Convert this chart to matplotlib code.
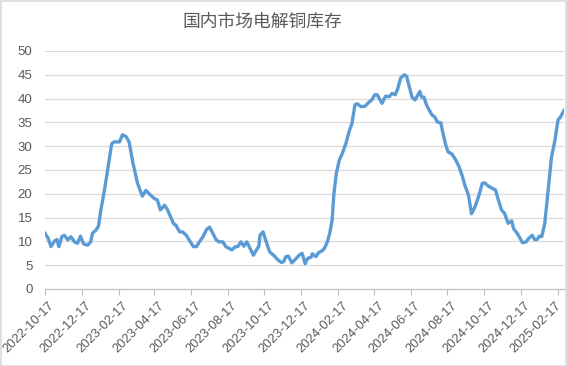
import matplotlib
matplotlib.use("Agg")
import matplotlib.pyplot as plt
import matplotlib.transforms as mtransforms
import pandas as pd
from matplotlib.patches import Rectangle

# ── Data ───────────────────────────────────────────────────────────────────
dates = [
    "2022-10-17", "2022-10-22", "2022-10-27", "2022-11-02", "2022-11-06", "2022-11-09",
    "2022-11-14", "2022-11-18", "2022-11-24", "2022-11-29", "2022-12-05", "2022-12-10",
    "2022-12-15", "2022-12-20", "2022-12-27", "2023-01-01", "2023-01-04", "2023-01-10",
    "2023-01-14", "2023-01-18", "2023-01-24", "2023-01-31", "2023-02-05", "2023-02-09",
    "2023-02-18", "2023-02-23", "2023-03-01", "2023-03-06", "2023-03-12", "2023-03-20",
    "2023-03-28", "2023-04-03", "2023-04-11", "2023-04-17", "2023-04-22", "2023-04-27",
    "2023-05-04", "2023-05-09", "2023-05-15", "2023-05-19", "2023-05-23", "2023-05-29",
    "2023-06-03", "2023-06-09", "2023-06-14", "2023-06-21", "2023-06-26", "2023-07-01",
    "2023-07-07", "2023-07-13", "2023-07-18", "2023-07-23", "2023-07-29", "2023-08-03",
    "2023-08-09", "2023-08-14", "2023-08-20", "2023-08-24", "2023-08-30", "2023-09-03",
    "2023-09-08", "2023-09-13", "2023-09-18", "2023-09-22", "2023-09-29", "2023-10-03",
    "2023-10-08", "2023-10-10", "2023-10-15", "2023-10-21", "2023-10-26", "2023-11-03",
    "2023-11-08", "2023-11-14", "2023-11-18", "2023-11-22", "2023-11-26", "2023-12-02",
    "2023-12-09", "2023-12-14", "2023-12-19", "2023-12-24", "2023-12-28", "2024-01-03",
    "2024-01-05", "2024-01-11", "2024-01-15", "2024-01-21", "2024-01-25", "2024-01-30",
    "2024-02-03", "2024-02-07", "2024-02-10", "2024-02-14", "2024-02-19", "2024-02-24",
    "2024-03-01", "2024-03-06", "2024-03-11", "2024-03-16", "2024-03-20", "2024-03-26",
    "2024-04-02", "2024-04-07", "2024-04-13", "2024-04-18", "2024-04-22", "2024-04-30",
    "2024-05-06", "2024-05-12", "2024-05-17", "2024-05-22", "2024-05-26", "2024-05-31",
    "2024-06-06", "2024-06-10", "2024-06-13", "2024-06-19", "2024-06-24", "2024-07-02",
    "2024-07-05", "2024-07-09", "2024-07-13", "2024-07-17", "2024-07-22", "2024-07-27",
    "2024-07-31", "2024-08-06", "2024-08-09", "2024-08-14", "2024-08-18", "2024-08-24",
    "2024-08-29", "2024-09-05", "2024-09-11", "2024-09-15", "2024-09-21", "2024-09-26",
    "2024-10-02", "2024-10-08", "2024-10-14", "2024-10-18", "2024-10-24", "2024-10-30",
    "2024-11-05", "2024-11-09", "2024-11-15", "2024-11-20", "2024-11-26", "2024-12-02",
    "2024-12-05", "2024-12-11", "2024-12-17", "2024-12-20", "2024-12-26", "2024-12-30",
    "2025-01-05", "2025-01-09", "2025-01-13", "2025-01-17", "2025-01-21", "2025-01-26",
    "2025-01-31", "2025-02-06", "2025-02-12", "2025-02-17", "2025-02-21", "2025-02-27",
]
stock = [
    11.7, 10.7, 8.9, 10.1, 10.4, 8.9,
    11.0, 11.3, 10.3, 11.0, 9.9, 9.6,
    11.1, 9.5, 9.2, 9.9, 11.7, 12.4,
    13.2, 16.6, 20.8, 26.4, 30.5, 30.9,
    30.9, 32.4, 32.0, 30.9, 26.7, 22.2,
    19.5, 20.7, 19.7, 19.0, 18.7, 16.6,
    17.6, 16.6, 14.9, 13.7, 13.4, 12.0,
    12.0, 11.3, 10.3, 8.9, 8.9, 9.9,
    11.0, 12.5, 13.0, 11.8, 10.3, 9.9,
    9.9, 8.9, 8.5, 8.2, 8.9, 8.9,
    9.9, 9.0, 9.9, 8.9, 7.1, 8.0,
    9.0, 11.3, 12.0, 9.6, 7.8, 6.9,
    6.2, 5.6, 5.7, 6.8, 6.9, 5.5,
    6.4, 7.1, 7.5, 5.3, 6.4, 6.7,
    7.4, 6.8, 7.6, 8.0, 8.5, 9.9,
    11.7, 14.5, 20.1, 24.3, 27.1, 28.5,
    30.6, 33.0, 34.8, 38.7, 38.9, 38.3,
    38.4, 39.1, 39.7, 40.8, 40.8, 39.0,
    40.5, 40.4, 41.1, 40.8, 42.0, 44.3,
    45.0, 44.7, 43.2, 40.3, 39.7, 41.5,
    40.3, 40.3, 38.7, 37.7, 36.6, 36.1,
    35.1, 34.9, 33.0, 30.3, 28.8, 28.4,
    27.5, 25.8, 23.6, 21.8, 19.7, 15.8,
    17.3, 19.5, 22.2, 22.3, 21.6, 21.2,
    20.8, 19.0, 16.6, 15.9, 13.8, 14.3,
    12.7, 11.7, 10.4, 9.7, 9.9, 10.6,
    11.3, 10.4, 10.4, 11.1, 11.0, 13.8,
    20.1, 27.5, 31.3, 35.5, 36.1, 37.5,
]
tick_dates = [
    "2022-10-17", "2022-12-17", "2023-02-17", "2023-04-17", "2023-06-17",
    "2023-08-17", "2023-10-17", "2023-12-17", "2024-02-17", "2024-04-17",
    "2024-06-17", "2024-08-17", "2024-10-17", "2024-12-17", "2025-02-17",
]
y_ticks = [0, 5, 10, 15, 20, 25, 30, 35, 40, 45, 50]
title = "国内市场电解铜库存"

# ── Plot ───────────────────────────────────────────────────────────────────
x = pd.to_datetime(dates)
ticks = pd.to_datetime(tick_dates)
grey = "#595959"

fig = plt.figure(figsize=(5.67, 3.66), dpi=100)
ax = fig.add_axes([0.0794, 0.2104, 0.9153, 0.6503])

ax.plot(x, stock, color="#5B9BD5", lw=2.4, solid_joinstyle="round")

ax.set_ylim(0, 50)
ax.set_yticks(y_ticks)
ax.set_xlim(x[0], x[-1])
ax.set_xticks(ticks)
ax.set_xticklabels([])

# slanted date labels: each one ends just right of its tick;
# the last one is nudged left so it stays inside the figure
for i, (t, s) in enumerate(zip(ticks, tick_dates)):
    dx = 3.5 if i < len(ticks) - 1 else -3.0
    shift = mtransforms.ScaledTranslation(dx / 100, -11 / 100, fig.dpi_scale_trans)
    ax.text(t, 0, s, transform=ax.get_xaxis_transform() + shift, rotation=45,
            ha="right", va="top", rotation_mode="anchor", fontsize=9.3,
            color=grey, family="Liberation Sans", clip_on=False)

ax.tick_params(axis="x", length=4, color="#bfbfbf", pad=3)
ax.tick_params(axis="y", length=0, labelsize=9.5, labelcolor=grey, pad=9)
for lab in ax.get_yticklabels():
    lab.set_family("Liberation Sans")

ax.grid(axis="y", color="#d9d9d9", lw=0.9)
ax.set_axisbelow(True)
for side in ("left", "right", "top"):
    ax.spines[side].set_visible(False)
ax.spines["bottom"].set_color("#bfbfbf")

fig.text(0.462, 0.94, title, ha="center", va="center", fontsize=12.8,
         color=grey, family=["Noto Sans CJK SC", "DejaVu Sans"], fontweight="light")

# chart border
fig.patches.append(Rectangle((0.001, 0.001), 0.997, 0.996, transform=fig.transFigure,
                             fill=False, edgecolor="#d9d9d9", lw=1.2))

fig.savefig("out.png", dpi=100)
plt.close(fig)
